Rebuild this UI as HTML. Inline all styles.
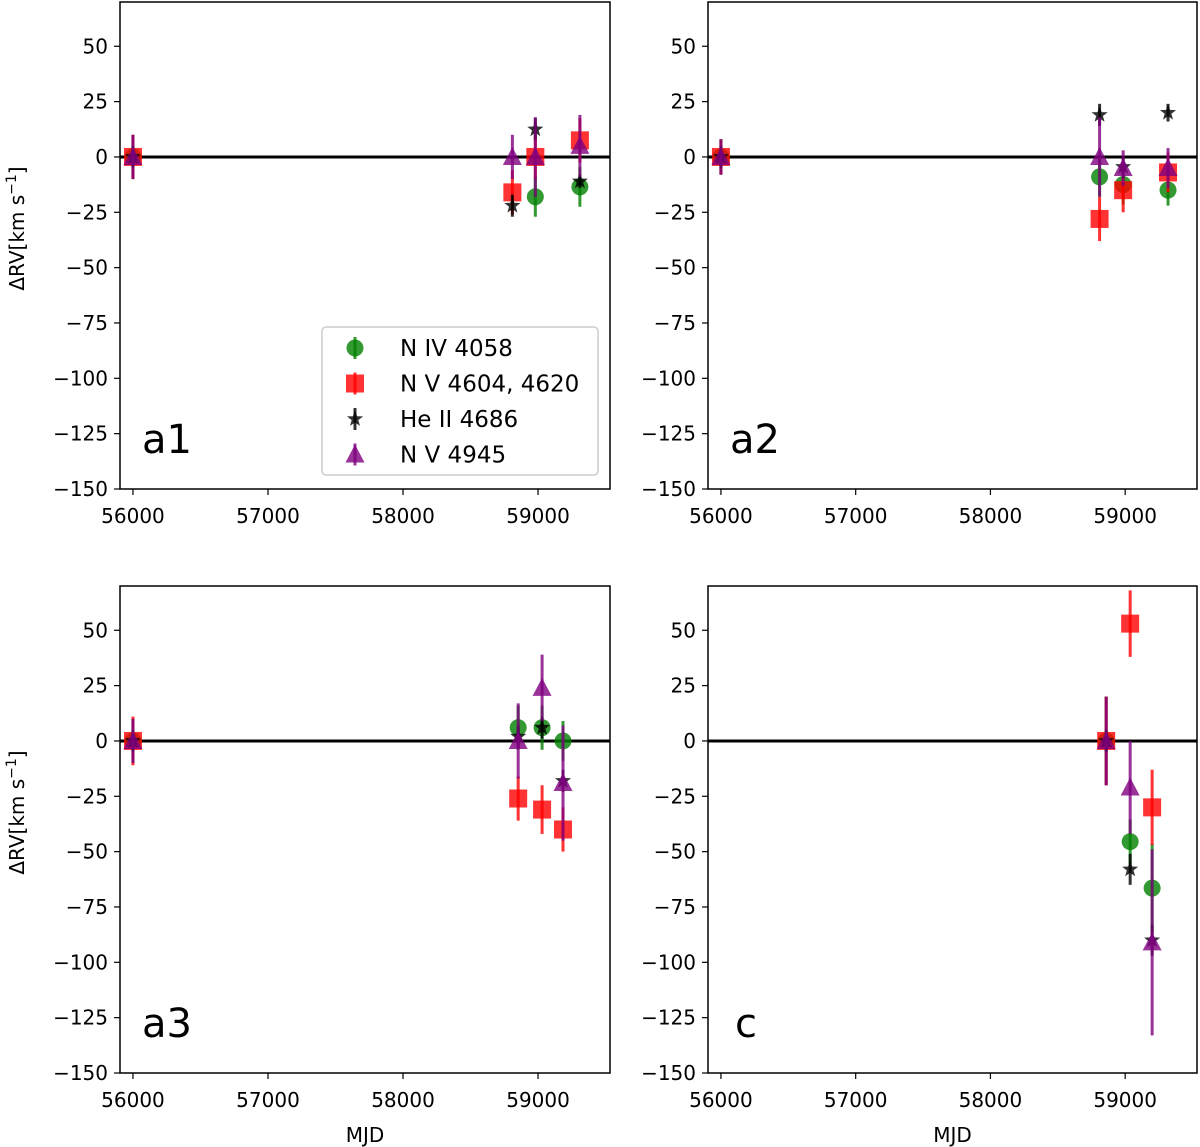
<!DOCTYPE html>
<html><head><meta charset="utf-8"><style>
body{margin:0;background:#fff;}
svg{display:block;font-family:"DejaVu Sans","Liberation Sans",sans-serif;}
</style></head><body>
<svg id="fig" width="1200" height="1147" viewBox="0 0 1200 1147"></svg>
<script>
const panelNames=["a1","a2","a3","c"];
const xTicks=[56000,57000,58000,59000];
const yTicks=[50,25,0,-25,-50,-75,-100,-125,-150];
const seriesNames=["N IV 4058","N V 4604, 4620","He II 4686","N V 4945"];
const seriesColors=["#008000","#ff0000","#000000","#800080"];
// per panel, per series: [mjd, value, err]
const a1Data=[
 [[56000,0,10],[58980,-18,9],[59310,-13.5,9]],
 [[56000,0,10],[58810,-16,10],[58980,0,10],[59310,7.5,10]],
 [[56000,0,5],[58810,-22,5],[58980,12.5,5],[59310,-11,3]],
 [[56000,0,10],[58810,0,10],[58980,0,18],[59310,5,14]]];
const a2Data=[
 [[56000,0,8],[58810,-9,9],[58985,-12.5,9],[59318,-15,7]],
 [[56000,0,8],[58810,-28,10],[58985,-15,10],[59318,-7,9]],
 [[56000,0,5],[58810,19,5],[58985,-4.5,5],[59318,20,4]],
 [[56000,0,8],[58810,0,18],[58985,-5,8],[59318,-5,9]]];
const a3Data=[
 [[56000,0,10],[58853,6,10],[59030,6,10],[59185,0,9]],
 [[56000,0,11],[58853,-26,10],[59030,-31,11],[59185,-40,10]],
 [[56000,0,5],[58853,2,5],[59030,6,5],[59185,-18,5]],
 [[56000,0,10],[58853,0,17],[59030,24,15],[59185,-19,26]]];
const cData=[
 [[58859,0,20],[59037,-45.5,10],[59200,-66.5,20]],
 [[58859,0,20],[59037,53,15],[59200,-30,17]],
 [[58859,0,5],[59037,-58,7],[59200,-90,7]],
 [[58859,0,20],[59037,-21,21],[59200,-91,42]]];
const allData=[a1Data,a2Data,a3Data,cData];
const NS="http://www.w3.org/2000/svg";
const svg=document.getElementById('fig');
function mk(tag,attrs,parent){const e=document.createElementNS(NS,tag);for(const k in attrs)e.setAttribute(k,attrs[k]);(parent||svg).appendChild(e);return e;}
const boxes=[[120,2,610,489],[708,2,1197,489],[120,586,610,1073],[708,586,1197,1073]];
const XMIN=55904,XMAX=59533,YMIN=-150,YMAX=70;
function marker(g,s,cx,cy,color){
 let e;
 if(s===0){e=mk('circle',{cx:cx,cy:cy,r:8.5,fill:color,'fill-opacity':0.8},g);}
 else if(s===1){e=mk('rect',{x:cx-9,y:cy-9,width:18,height:18,fill:color,'fill-opacity':0.8},g);}
 else if(s===2){let p=[];for(let i=0;i<10;i++){const r=i%2?3.5:8.5;const a=-Math.PI/2+i*Math.PI/5;p.push((cx+r*Math.cos(a)).toFixed(1)+','+(cy+r*Math.sin(a)).toFixed(1));}
  e=mk('polygon',{points:p.join(' '),fill:color,'fill-opacity':0.8},g);}
 else {e=mk('polygon',{points:`${cx},${cy-10} ${cx+9.5},${cy+8} ${cx-9.5},${cy+8}`,fill:color,'fill-opacity':0.8},g);}
 return e;
}
panelNames.forEach((pn,pi)=>{
 const [L,T,R,B]=boxes[pi];
 const xs=v=>L+(v-XMIN)/(XMAX-XMIN)*(R-L);
 const ys=v=>B-(v-YMIN)/(YMAX-YMIN)*(B-T);
 const g=mk('g',{});
 
 
 mk('line',{x1:L,x2:R,y1:ys(0),y2:ys(0),stroke:'#000','stroke-width':3},g);
 allData[pi].forEach((ser,si)=>{
  const sg=mk('g',{},g);
  
  
  ser.forEach(d=>{
   const cx=xs(d[0]),cy=ys(d[1]);
   mk('line',{x1:cx,x2:cx,y1:ys(d[1]-d[2]),y2:ys(d[1]+d[2]),stroke:seriesColors[si],'stroke-width':3,'stroke-opacity':0.8},sg);
   const m=marker(sg,si,cx,cy,seriesColors[si]);
   
   
  });
 });
 mk('rect',{x:L,y:T,width:R-L,height:B-T,fill:'none',stroke:'#000','stroke-width':1.5},g);
 xTicks.forEach(t=>{const x=xs(t);mk('line',{x1:x,x2:x,y1:B,y2:B+6,stroke:'#000','stroke-width':1.2},g);
  const tx=mk('text',{x:x,y:B+34,'font-size':20,'text-anchor':'middle'},g);tx.textContent=t;});
 yTicks.forEach(t=>{const y=ys(t);mk('line',{x1:L-6,x2:L,y1:y,y2:y,stroke:'#000','stroke-width':1.2},g);
  const tx=mk('text',{x:L-12,y:y+7,'font-size':20,'text-anchor':'end'},g);tx.textContent=(t<0?'\u2212'+(-t):t);});
 const lab=mk('text',{x:L+22+(pn==='c'?5:0),y:B-36,'font-size':40},g);lab.textContent=pn;
 if(pi%2===0){const yt=mk('text',{x:0,y:0,'font-size':20,'text-anchor':'middle',transform:`translate(24,${(T+B)/2-17}) rotate(-90)`},g);
  yt.innerHTML='ΔRV[km s<tspan dy="-8" font-size="14">−1</tspan><tspan dy="8">]</tspan>';}
 if(pi>=2){const xt=mk('text',{x:(L+R)/2,y:1142,'font-size':20,'text-anchor':'middle'},g);xt.textContent='MJD';}
});
// legend
const lg=mk('g',{});


mk('rect',{x:322,y:327,width:276,height:148,rx:4,fill:'#fff','fill-opacity':0.8,stroke:'#ccc','stroke-width':1.5},lg);
seriesNames.forEach((n,i)=>{
 const y=348+i*35.5;
 const e=mk('g',{},lg);
 
 
 mk('line',{x1:355,x2:355,y1:y-11,y2:y+11,stroke:seriesColors[i],'stroke-width':3,'stroke-opacity':0.8},e);
 marker(e,i,355,y,seriesColors[i]);
 const t=mk('text',{x:400,y:y+8,'font-size':23},e);t.textContent=n;
});
</script>
</body></html>
